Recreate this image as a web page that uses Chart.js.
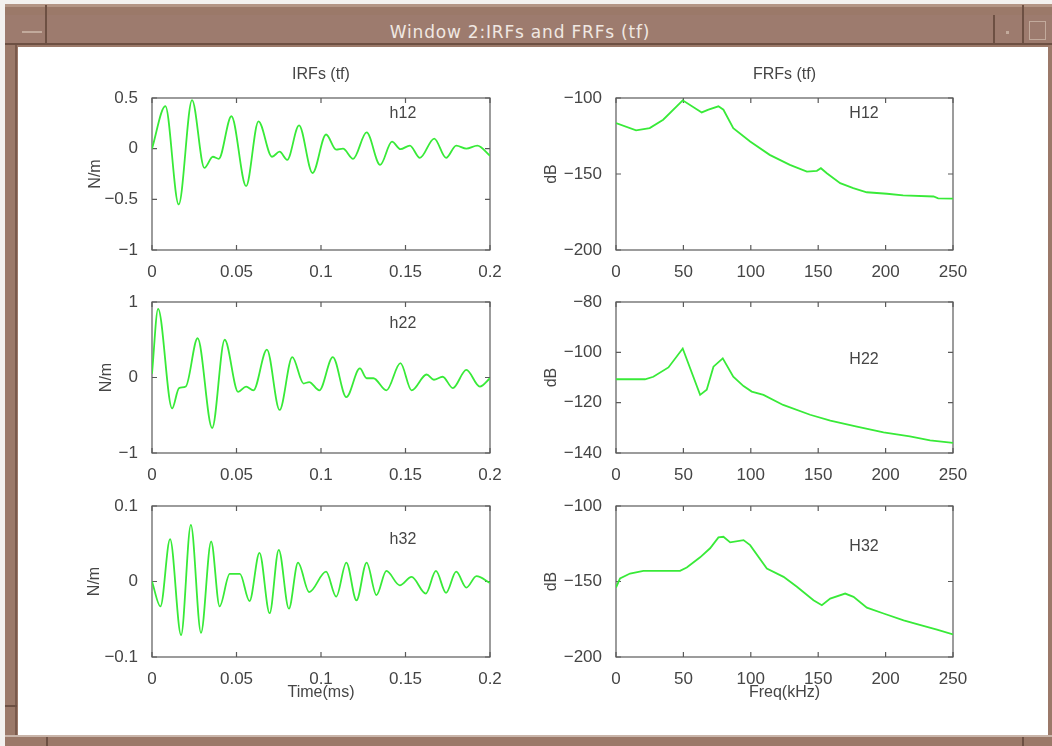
<!DOCTYPE html>
<html>
<head>
<meta charset="utf-8">
<script src="https://cdn.jsdelivr.net/npm/chart.js@4.4.1/dist/chart.umd.min.js"></script>
<style>
  body { margin: 0; width: 1052px; height: 746px; position: relative; overflow: hidden; background: #f3f1ef; }
  .abs { position: absolute; }
  #frame { left: 5px; top: 4px; width: 1047px; height: 742px; background: #9b7969; }
  #topEdge { left: 5px; top: 4px; width: 1047px; height: 3px; background: #b39585; }
  #titlebar { left: 5px; top: 15px; width: 1047px; height: 28px; background: #9d7b6e; }
  #titleLine { left: 5px; top: 43px; width: 1047px; height: 2px; background: #6d5043; }
  #title { left: 5px; top: 18px; width: 1030px; height: 28px; text-align: center;
           font: 17px "DejaVu Sans", sans-serif; line-height: 28px; letter-spacing: 0.8px; color: #f0e8e2; }
  #client { left: 18px; top: 47px; width: 1030px; height: 688px; background: #fff; }
  #botEdge { left: 5px; top: 735px; width: 1047px; height: 2px; background: #c9b5aa; }
  .vsep { width: 2px; background: #6d5043; }
  #btnDash { left: 22px; top: 31px; width: 20px; height: 2px; background: #c2aa9c; }
  #btnDot { left: 1006px; top: 31px; width: 3px; height: 3px; background: #c2aa9c; }
  #btnBox { left: 1029px; top: 21px; width: 15px; height: 17px; border: 1px solid #c2aa9c; }
  canvas { position: absolute; }
</style>
</head>
<body>
<div id="frame" class="abs"></div>
<div id="topEdge" class="abs"></div>
<div id="titlebar" class="abs"></div>
<div id="titleLine" class="abs"></div>
<div class="abs vsep" style="left:15px;top:45px;height:692px;background:#7a5a4c"></div>
<div class="abs vsep" style="left:45px;top:5px;height:38px"></div>
<div class="abs vsep" style="left:993px;top:15px;height:28px"></div>
<div class="abs vsep" style="left:1022px;top:5px;height:38px"></div>
<div class="abs vsep" style="left:46px;top:737px;height:9px"></div>
<div class="abs vsep" style="left:1022px;top:737px;height:9px"></div>
<div class="abs" style="left:5px;top:705px;width:12px;height:2px;background:#6d5043"></div>
<div id="btnDash" class="abs"></div>
<div id="btnDot" class="abs"></div>
<div id="btnBox" class="abs"></div>
<div id="title" class="abs">Window 2:IRFs and FRFs (tf)</div>
<div id="client" class="abs"></div>
<div id="botEdge" class="abs"></div>

<canvas id="c11"></canvas>
<canvas id="c12"></canvas>
<canvas id="c21"></canvas>
<canvas id="c22"></canvas>
<canvas id="c31"></canvas>
<canvas id="c32"></canvas>

<script>
// ---- data ----
const timeTicks = [0, 0.05, 0.1, 0.15, 0.2]
const timeTickLabels = ['0', '0.05', '0.1', '0.15', '0.2']
const freqTicks = [0, 50, 100, 150, 200, 250]
const freqTickLabels = ['0', '50', '100', '150', '200', '250']

const h12Ticks = [-1, -0.5, 0, 0.5]
const h12TickLabels = ['\u22121', '\u22120.5', '0', '0.5']
const h22Ticks = [-1, 0, 1]
const h22TickLabels = ['\u22121', '0', '1']
const h32Ticks = [-0.1, 0, 0.1]
const h32TickLabels = ['\u22120.1', '0', '0.1']
const H12Ticks = [-200, -150, -100]
const H12TickLabels = ['\u2212200', '\u2212150', '\u2212100']
const H22Ticks = [-140, -120, -100, -80]
const H22TickLabels = ['\u2212140', '\u2212120', '\u2212100', '\u221280']
const H32Ticks = [-200, -150, -100]
const H32TickLabels = ['\u2212200', '\u2212150', '\u2212100']

// impulse responses (time in ms)
const h12Time = [0, 0.0079, 0.0158, 0.0237, 0.031, 0.036, 0.0395, 0.047, 0.0557, 0.063, 0.071, 0.0755, 0.08, 0.087, 0.095, 0.103, 0.109, 0.113, 0.119, 0.127, 0.135, 0.142, 0.147, 0.1526, 0.1585, 0.167, 0.174, 0.18, 0.186, 0.1925, 0.2]
const h12Vals = [0, 0.42, -0.55, 0.48, -0.19, -0.08, -0.1, 0.32, -0.37, 0.27, -0.08, -0.03, -0.11, 0.23, -0.24, 0.14, -0.01, 0.0, -0.1, 0.16, -0.16, 0.07, -0.005, 0.03, -0.09, 0.1, -0.09, 0.03, 0, 0.03, -0.07]

const h22Time = [0, 0.0036, 0.0119, 0.016, 0.02, 0.027, 0.0356, 0.043, 0.051, 0.0557, 0.06, 0.068, 0.0755, 0.083, 0.0897, 0.093, 0.099, 0.107, 0.115, 0.123, 0.127, 0.131, 0.1387, 0.147, 0.1536, 0.1625, 0.1668, 0.172, 0.178, 0.186, 0.194, 0.2]
const h22Vals = [0.05, 0.91, -0.41, -0.14, -0.12, 0.52, -0.67, 0.5, -0.19, -0.12, -0.17, 0.37, -0.43, 0.27, -0.08, -0.06, -0.17, 0.27, -0.26, 0.12, -0.01, -0.01, -0.17, 0.19, -0.17, 0.04, -0.03, 0.01, -0.14, 0.1, -0.12, -0.01]

const h32Time = [0, 0.005, 0.0107, 0.0172, 0.023, 0.029, 0.035, 0.04, 0.046, 0.052, 0.0577, 0.0636, 0.0696, 0.075, 0.081, 0.0864, 0.093, 0.103, 0.109, 0.115, 0.121, 0.127, 0.1328, 0.1387, 0.1466, 0.1536, 0.162, 0.168, 0.174, 0.18, 0.186, 0.192, 0.2]
const h32Vals = [0, -0.033, 0.056, -0.071, 0.075, -0.068, 0.053, -0.033, 0.01, 0.01, -0.026, 0.038, -0.042, 0.042, -0.036, 0.025, -0.014, 0.013, -0.02, 0.025, -0.025, 0.025, -0.018, 0.014, -0.005, 0.006, -0.016, 0.014, -0.015, 0.013, -0.008, 0.007, -0.002]

// frequency responses (kHz, dB)
const H12Freq = [0, 14.9, 25, 35, 49.5, 63.6, 68.6, 76, 79.7, 87, 99.5, 114, 129, 141.6, 149, 152, 156.4, 166.3, 176, 186, 201, 213, 235.6, 239, 250]
const H12Vals = [-116.5, -121.3, -119.8, -114.3, -101.5, -109.5, -107.7, -105.5, -107.7, -119.8, -128.6, -137.4, -144, -148.4, -147.9, -146.2, -149.5, -156, -159.3, -162, -163, -164, -164.8, -166, -166.2]

const H22Freq = [0, 21.5, 27.7, 38.9, 49.5, 62.4, 67.3, 72.3, 79.2, 87, 94.6, 100.7, 109.4, 124, 144, 159, 178.7, 198.5, 218, 233, 250]
const H22Vals = [-110.7, -110.7, -109.7, -106, -98.5, -116.9, -114.9, -105.7, -102.4, -109.7, -113.4, -115.6, -116.9, -120.9, -124.8, -127.1, -129.5, -131.8, -133.4, -135, -136]

const H32Freq = [0, 3, 10.4, 20.3, 47.5, 52.5, 62.4, 69.8, 76, 79.7, 84.7, 94.6, 99.5, 111.9, 124.3, 134.2, 146.5, 152.7, 158.9, 170, 176.2, 186.1, 198.5, 213.4, 223.3, 238.1, 250]
const H32Vals = [-154, -148, -144.7, -142.9, -142.9, -140.7, -134, -128, -120.8, -120.4, -124.1, -122.6, -125.9, -141.4, -146.9, -153.5, -162.4, -165.7, -161.3, -158, -160.2, -167.3, -171.2, -175.7, -178.3, -181.9, -185]

// ---- drawing ----
const FONT = '"Liberation Sans", Arial, sans-serif'
const TEXT = '#454545'
const GREEN = '#38ea38'

// MATLAB-ish axes box: frame + inward ticks on all sides, plus the curve label
const boxPlugin = {
  id: 'matlabBox',
  beforeDatasetsDraw(chart) {
    const { ctx, chartArea: a, scales: { x, y } } = chart
    ctx.save()
    ctx.strokeStyle = '#5a5a5a'
    ctx.lineWidth = 1.2
    ctx.strokeRect(a.left, a.top, a.right - a.left, a.bottom - a.top)
    ctx.beginPath()
    x.ticks.forEach(t => {
      const px = x.getPixelForValue(t.value)
      ctx.moveTo(px, a.top); ctx.lineTo(px, a.top + 5)
      ctx.moveTo(px, a.bottom); ctx.lineTo(px, a.bottom - 5)
    })
    y.ticks.forEach(t => {
      const py = y.getPixelForValue(t.value)
      ctx.moveTo(a.left, py); ctx.lineTo(a.left + 5, py)
      ctx.moveTo(a.right, py); ctx.lineTo(a.right - 5, py)
    })
    ctx.stroke()
    ctx.restore()
  },
  afterDraw(chart, args, opts) {
    if (!opts.text) return
    const { ctx, scales: { x, y } } = chart
    ctx.save()
    ctx.font = '16px ' + FONT
    ctx.fillStyle = TEXT
    ctx.textAlign = 'center'
    ctx.textBaseline = 'middle'
    ctx.fillText(opts.text, x.getPixelForValue(opts.x), y.getPixelForValue(opts.y))
    ctx.restore()
  }
}

function fixedTicks(values, labels) {
  return {
    afterBuildTicks: s => { s.ticks = values.map(v => ({ value: v })) },
    ticks: {
      color: TEXT,
      font: { family: FONT, size: 17 },
      callback: (v) => labels[values.indexOf(v)] ?? '',
      autoSkip: false,
      maxRotation: 0
    }
  }
}

function makePlot(id, g, xs, ys, opt) {
  const canvas = document.getElementById(id)
  const w = g.yW + g.plotW + 22
  const topBlock = g.title ? 43 : 15
  const h = topBlock + g.plotH + g.xH
  canvas.width = w
  canvas.height = h
  canvas.style.left = (g.plotLeft - g.yW) + 'px'
  canvas.style.top = (g.plotTop - topBlock) + 'px'

  const xt = fixedTicks(opt.xTicks, opt.xLabels)
  const yt = fixedTicks(opt.yTicks, opt.yLabels)

  new Chart(canvas.getContext('2d'), {
    type: 'line',
    data: {
      datasets: [{
        data: xs.map((v, i) => ({ x: v, y: ys[i] })),
        borderColor: GREEN,
        borderWidth: 1.8,
        pointRadius: 0,
        fill: false,
        tension: opt.smooth ? 0.4 : 0,
        cubicInterpolationMode: opt.smooth ? 'monotone' : 'default'
      }]
    },
    options: {
      responsive: false,
      animation: false,
      layout: { padding: { top: g.title ? 0 : 15, left: 0, right: 22, bottom: 0 } },
      plugins: {
        legend: { display: false },
        tooltip: { enabled: false },
        title: {
          display: !!g.title,
          text: g.title || '',
          fullSize: false,
          color: TEXT,
          font: { family: FONT, size: 16, weight: 'normal', lineHeight: 1.2 },
          padding: { top: 10.4, bottom: 13.4 }
        },
        matlabBox: opt.label
      },
      scales: {
        x: {
          type: 'linear',
          min: opt.xTicks[0],
          max: opt.xTicks[opt.xTicks.length - 1],
          grid: { display: false },
          border: { display: false },
          afterBuildTicks: xt.afterBuildTicks,
          afterFit: s => { s.height = g.xH; s.paddingLeft = 0; s.paddingRight = 0 },
          ticks: Object.assign({}, xt.ticks, { padding: 4 }),
          title: {
            display: !!opt.xTitle,
            text: opt.xTitle || '',
            color: TEXT,
            font: { family: FONT, size: 16, lineHeight: 1.2 },
            padding: { top: 0, bottom: 4.4 }
          }
        },
        y: {
          type: 'linear',
          min: opt.yTicks[0],
          max: opt.yTicks[opt.yTicks.length - 1],
          grid: { display: false },
          border: { display: false },
          afterBuildTicks: yt.afterBuildTicks,
          afterFit: s => { s.width = g.yW; s.paddingTop = 0; s.paddingBottom = 0 },
          ticks: Object.assign({}, yt.ticks, { padding: 6 }),
          title: {
            display: true,
            text: opt.yTitle,
            color: TEXT,
            font: { family: FONT, size: 16, lineHeight: 1.2 },
            padding: { top: opt.yTitlePad, bottom: 0 }
          }
        }
      }
    },
    plugins: [boxPlugin]
  })
}

const leftCol = { plotLeft: 152, plotW: 338, yW: 75 }
const rightCol = { plotLeft: 616, plotW: 337, yW: 75 }
const row1 = { plotTop: 98, plotH: 152, xH: 30 }
const row2 = { plotTop: 302, plotH: 151, xH: 30 }
const row3 = { plotTop: 506, plotH: 151, xH: 50 }

makePlot('c11', { ...leftCol, ...row1, title: 'IRFs (tf)' }, h12Time, h12Vals, {
  smooth: true, xTicks: timeTicks, xLabels: timeTickLabels, yTicks: h12Ticks, yLabels: h12TickLabels,
  yTitle: 'N/m', yTitlePad: 9.4, label: { text: 'h12', x: 0.1485, y: 0.35 }
})
makePlot('c12', { ...rightCol, ...row1, title: 'FRFs (tf)' }, H12Freq, H12Vals, {
  smooth: false, xTicks: freqTicks, xLabels: freqTickLabels, yTicks: H12Ticks, yLabels: H12TickLabels,
  yTitle: 'dB', yTitlePad: 1.4, label: { text: 'H12', x: 184, y: -110 }
})
makePlot('c21', { ...leftCol, ...row2 }, h22Time, h22Vals, {
  smooth: true, xTicks: timeTicks, xLabels: timeTickLabels, yTicks: h22Ticks, yLabels: h22TickLabels,
  yTitle: 'N/m', yTitlePad: 20.4, label: { text: 'h22', x: 0.1485, y: 0.72 }
})
makePlot('c22', { ...rightCol, ...row2 }, H22Freq, H22Vals, {
  smooth: false, xTicks: freqTicks, xLabels: freqTickLabels, yTicks: H22Ticks, yLabels: H22TickLabels,
  yTitle: 'dB', yTitlePad: 1.4, label: { text: 'H22', x: 184, y: -103 }
})
makePlot('c31', { ...leftCol, ...row3 }, h32Time, h32Vals, {
  smooth: true, xTicks: timeTicks, xLabels: timeTickLabels, yTicks: h32Ticks, yLabels: h32TickLabels,
  yTitle: 'N/m', yTitlePad: 8.4, xTitle: 'Time(ms)', label: { text: 'h32', x: 0.1485, y: 0.056 }
})
makePlot('c32', { ...rightCol, ...row3 }, H32Freq, H32Vals, {
  smooth: false, xTicks: freqTicks, xLabels: freqTickLabels, yTicks: H32Ticks, yLabels: H32TickLabels,
  yTitle: 'dB', yTitlePad: 1.4, xTitle: 'Freq(kHz)', label: { text: 'H32', x: 184, y: -127 }
})
</script>
</body>
</html>
